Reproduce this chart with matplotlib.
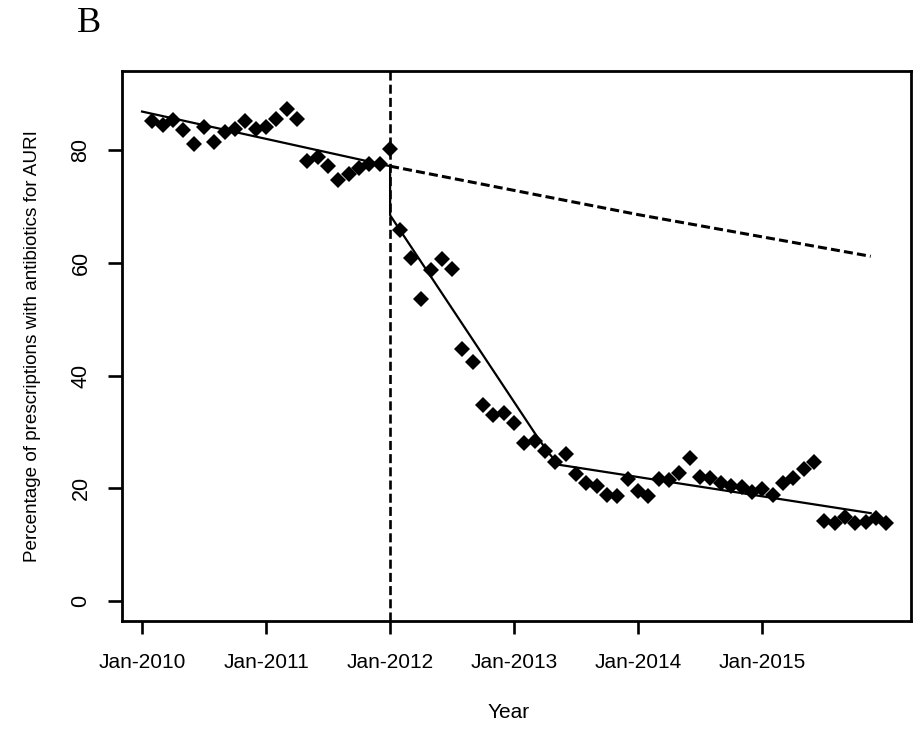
import numpy as np
import matplotlib
matplotlib.use("Agg")
import matplotlib.pyplot as plt

plt.rcParams["font.family"] = ["Liberation Sans", "DejaVu Sans"]
plt.rcParams["lines.scale_dashes"] = False

# Monthly share of prescriptions with antibiotics for AURI (month 1 = Jan-2010)
month = np.arange(1, 73)
pct_antibiotics = [
    85.3, 84.6, 85.4, 83.7, 81.1, 84.2, 81.5, 83.2, 83.8, 85.3, 83.8, 84.2,
    85.6, 87.4, 85.5, 78.2, 78.9, 77.3, 74.7, 75.9, 76.8, 77.6, 77.6, 80.3,
    65.9, 60.9, 53.7, 58.7, 60.8, 58.9, 44.8, 42.4, 34.8, 33.1, 33.4, 31.6,
    28.0, 28.4, 26.6, 24.6, 26.1, 22.6, 20.9, 20.4, 18.8, 18.7, 21.6, 19.6,
    18.7, 21.6, 21.4, 22.8, 25.4, 22.1, 21.9, 21.0, 20.4, 20.2, 19.4, 19.9,
    18.8, 21.0, 21.9, 23.4, 24.6, 14.2, 13.8, 14.9, 13.8, 14.1, 14.7, 13.9,
]

# Segmented regression fit (pre-period, level drop, post-period slopes)
fit_month = [0, 24, 24, 38, 39.2, 40.3, 70.5]
fit_value = [86.9, 77.2, 68.5, 29.8, 26.6, 24.2, 15.6]

# Counterfactual trend without the intervention
cf_month = [24, 48, 70.5]
cf_value = [77.2, 68.6, 61.2]

intervention_month = 24
tick_months = [0, 12, 24, 36, 48, 60]
tick_labels = ["Jan-2010", "Jan-2011", "Jan-2012", "Jan-2013", "Jan-2014", "Jan-2015"]
y_ticks = [0, 20, 40, 60, 80]

W, H = 917, 730
fig = plt.figure(figsize=(W / 100, H / 100), dpi=100)
ax = fig.add_axes([122 / W, 1 - 621 / H, (911 - 122) / W, (621 - 71) / H])

ax.axvline(intervention_month, color="black", lw=1.9, dashes=(6.5, 3.0), zorder=2)
ax.plot(cf_month, cf_value, color="black", lw=2.2, dashes=(6.5, 3.0), zorder=2)
ax.plot(fit_month, fit_value, color="black", lw=1.6, zorder=3)
ax.plot(month, pct_antibiotics, linestyle="none", marker="D", markersize=8,
        color="black", markeredgewidth=0, zorder=4)

ax.set_xlim(-1.94, 74.4)
ax.set_ylim(-3.55, 94.1)
ax.set_xticks(tick_months)
ax.set_xticklabels(tick_labels, fontsize=15)
ax.set_yticks(y_ticks)
ax.set_yticklabels([str(v) for v in y_ticks], fontsize=15.5, rotation=90, va="center")

ax.tick_params(axis="x", direction="out", length=9, width=1.9, pad=14)
ax.tick_params(axis="y", direction="out", length=10, width=1.9, pad=12)
for sp in ax.spines.values():
    sp.set_linewidth(2.0)
    sp.set_color("black")

fig.text(509 / W, 1 - 712 / H, "Year", ha="center", va="center", fontsize=15)
fig.text(33 / W, 1 - 346 / H, "Percentage of prescriptions with antibiotics for AURI",
         ha="center", va="center", rotation=90, fontsize=13.6)
fig.text(77 / W, 1 - 23 / H, "B", ha="left", va="center", fontsize=26,
         family=["Liberation Serif", "DejaVu Serif"])

fig.savefig("out.png", dpi=100, facecolor="white")
